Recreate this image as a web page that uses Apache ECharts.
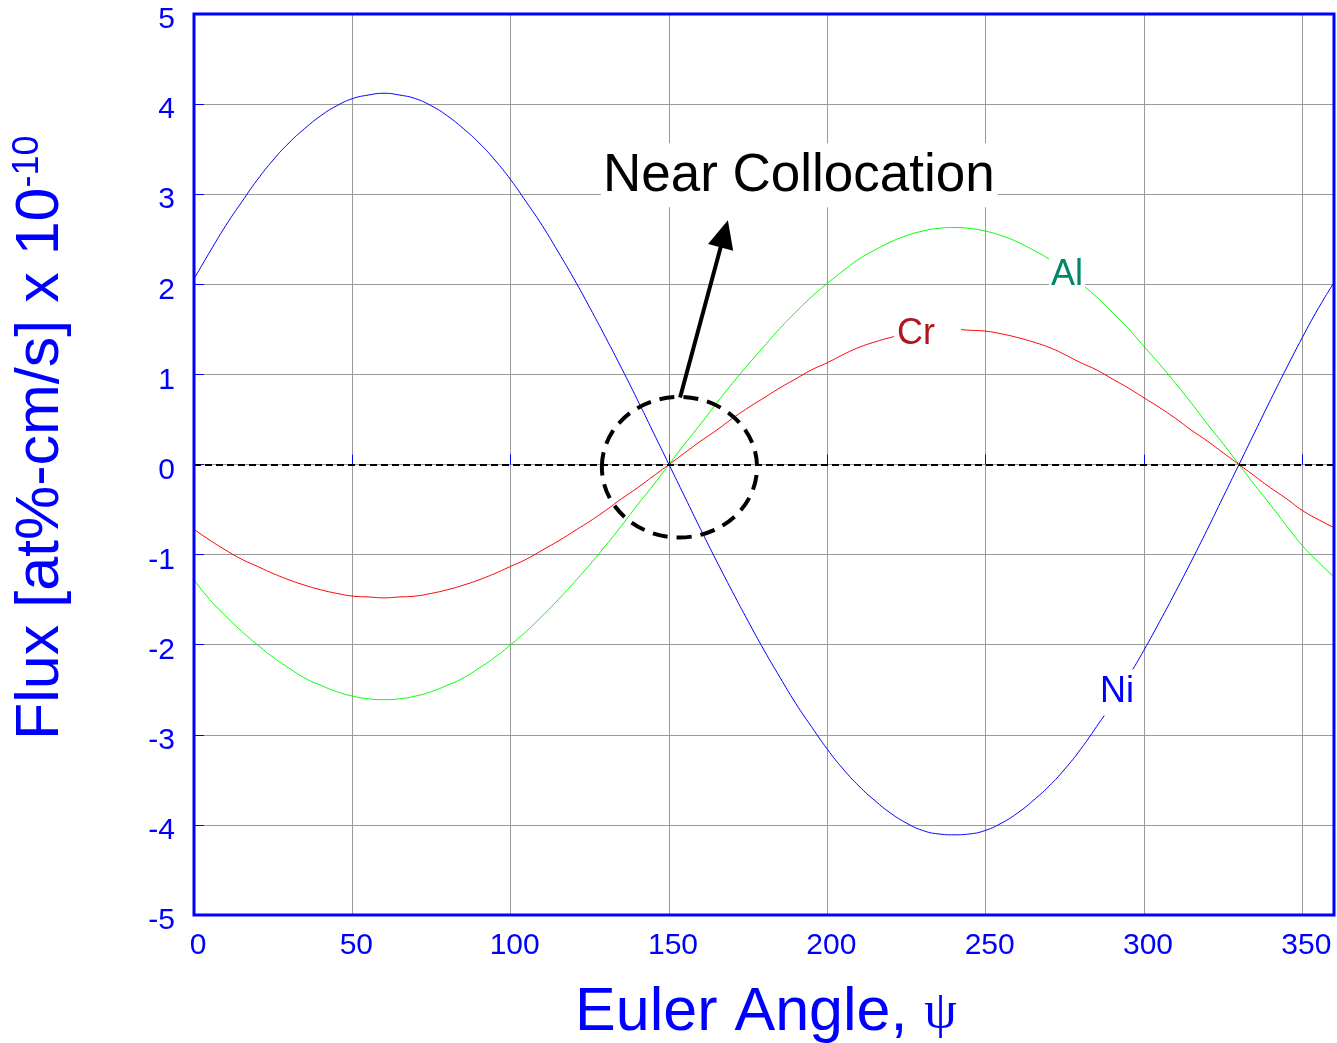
<!DOCTYPE html>
<html>
<head>
<meta charset="utf-8">
<title>Flux vs Euler Angle</title>
<script src="https://cdn.jsdelivr.net/npm/echarts@6/dist/echarts.min.js"></script>
<style>
  html, body { margin: 0; padding: 0; background: #ffffff; }
  #chart { width: 1337px; height: 1043px; }
</style>
</head>
<body>
<div id="chart"></div>
<script>
// Euler angle samples (degrees)
const psi = [0, 5, 10, 15, 20, 25, 30, 35, 40, 45, 50, 55, 60, 65, 70, 75, 80, 85, 90, 95,
             100, 105, 110, 115, 120, 125, 130, 135, 140, 145, 150, 155, 160, 165, 170, 175, 180, 185, 190, 195,
             200, 205, 210, 215, 220, 225, 230, 235, 240, 245, 250, 255, 260, 265, 270, 275, 280, 285, 290, 295,
             300, 305, 310, 315, 320, 325, 330, 335, 340, 345, 350, 355, 360];

// Flux per element, at%-cm/s x 1e-10
const ni = [2.06, 2.36, 2.65, 2.91, 3.16, 3.38, 3.57, 3.73, 3.87, 3.98, 4.06, 4.10, 4.12, 4.10, 4.06, 3.98, 3.87, 3.73, 3.57, 3.38,
            3.16, 2.91, 2.65, 2.36, 2.06, 1.74, 1.41, 1.07, 0.72, 0.36, 0.00, -0.36, -0.72, -1.07, -1.41, -1.74, -2.06, -2.36, -2.65, -2.91,
            -3.16, -3.38, -3.57, -3.73, -3.87, -3.98, -4.06, -4.10, -4.11, -4.10, -4.06, -3.98, -3.87, -3.73, -3.57, -3.38, -3.16, -2.91, -2.65, -2.36,
            -2.06, -1.74, -1.41, -1.07, -0.72, -0.36, 0.00, 0.36, 0.72, 1.07, 1.41, 1.73, 2.02];
const al = [-1.28, -1.50, -1.68, -1.85, -2.00, -2.14, -2.26, -2.37, -2.45, -2.52, -2.57, -2.60, -2.61, -2.60, -2.57, -2.52, -2.45, -2.37, -2.26, -2.14,
            -2.00, -1.85, -1.68, -1.50, -1.31, -1.11, -0.90, -0.68, -0.45, -0.23, 0.00, 0.23, 0.45, 0.68, 0.90, 1.11, 1.31, 1.51, 1.69, 1.86,
            2.01, 2.15, 2.28, 2.38, 2.47, 2.54, 2.59, 2.62, 2.63, 2.62, 2.59, 2.54, 2.47, 2.38, 2.28, 2.15, 2.01, 1.86, 1.69, 1.51,
            1.31, 1.11, 0.90, 0.68, 0.45, 0.23, 0.00, -0.23, -0.45, -0.68, -0.90, -1.08, -1.25];
const cr = [-0.72, -0.84, -0.95, -1.05, -1.13, -1.21, -1.28, -1.34, -1.39, -1.43, -1.46, -1.47, -1.48, -1.47, -1.46, -1.43, -1.39, -1.34, -1.28, -1.21,
            -1.13, -1.05, -0.95, -0.85, -0.74, -0.63, -0.51, -0.38, -0.26, -0.13, 0.00, 0.13, 0.26, 0.38, 0.51, 0.63, 0.74, 0.85, 0.95, 1.05,
            1.13, 1.22, 1.30, 1.36, 1.41, 1.45, 1.48, 1.49, 1.50, 1.49, 1.48, 1.45, 1.41, 1.36, 1.30, 1.22, 1.13, 1.05, 0.95, 0.85,
            0.74, 0.63, 0.51, 0.38, 0.26, 0.13, 0.00, -0.13, -0.26, -0.38, -0.51, -0.61, -0.70];

// In-plot labels: text, anchor in data units
const curveLabels = [
  { text: 'Al', x: 275.7, y: 2.10,  color: '#00876a', box: [-18, 18, -20, 20] },
  { text: 'Cr', x: 228.0, y: 1.45,  color: '#b2151f', box: [-22, 45, -18, 17] },
  { text: 'Ni', x: 291.5, y: -2.53, color: '#0000ff', box: [-18, 19, -23, 23] }
];
const noteText = 'Near Collocation';
const notePos = [191.0, 3.20];
const ringCenter = [153.3, -0.03];
const ringRadius = [24.5, 0.78];
const arrowTail = [153.5, 0.744];
const arrowTip = [168.6, 2.71];

const FONT = '"Liberation Sans", Arial, Helvetica, sans-serif';
const BLUE = '#0000ff';

const pairs = v => psi.map((p, i) => [p, v[i]]);

const chart = echarts.init(document.getElementById('chart'), null, { renderer: 'canvas' });

const option = {
  backgroundColor: '#ffffff',
  animation: false,
  grid: { left: 194, right: 3, top: 14, bottom: 128 },
  xAxis: {
    type: 'value', min: 0, max: 360, interval: 50,
    axisLine: { show: false },
    axisTick: { show: true, inside: true, length: 10, lineStyle: { color: BLUE, width: 1 } },
    axisLabel: {
      color: BLUE, fontSize: 30, fontFamily: FONT, margin: 16,
      showMaxLabel: false, padding: [0, 0, 0, 8]
    },
    splitLine: { show: true, lineStyle: { color: '#9a9a9a', width: 1 } }
  },
  yAxis: {
    type: 'value', min: -5, max: 5, interval: 1,
    axisLine: { show: false },
    axisTick: { show: true, inside: true, length: 10, lineStyle: { color: BLUE, width: 1 } },
    axisLabel: {
      margin: 19, formatter: '{v|{value}}',
      rich: { v: { color: BLUE, fontSize: 30, fontFamily: FONT, padding: [12, 0, 0, 0] } }
    },
    splitLine: { show: true, lineStyle: { color: '#9a9a9a', width: 1 } }
  },
  series: [
    {
      name: 'Ni', type: 'line', data: pairs(ni), smooth: true, showSymbol: false,
      lineStyle: { color: BLUE, width: 1 }, z: 3,
      markLine: {
        silent: true, symbol: ['none', 'none'], label: { show: false },
        lineStyle: { color: '#000000', width: 2, type: [7, 4] },
        data: [{ yAxis: 0 }]
      }
    },
    { name: 'Al', type: 'line', data: pairs(al), smooth: true, showSymbol: false,
      lineStyle: { color: '#00ff00', width: 1 }, z: 3 },
    { name: 'Cr', type: 'line', data: pairs(cr), smooth: true, showSymbol: false,
      lineStyle: { color: '#ff0000', width: 1 }, z: 3 }
  ]
};

chart.setOption(option);

function px(p) { return chart.convertToPixel({ gridIndex: 0 }, p); }

function buildNotes() {
  const g = [];
  // plot frame
  const tl = px([0, 5]), br = px([360, -5]);
  g.push({
    type: 'rect', z: 70,
    shape: { x: tl[0], y: tl[1], width: br[0] - tl[0], height: br[1] - tl[1] },
    style: { fill: 'none', stroke: BLUE, lineWidth: 3 }
  });
  // curve name tags with white backing
  curveLabels.forEach(l => {
    const c = px([l.x, l.y]);
    g.push({
      type: 'rect', z: 50,
      shape: { x: c[0] + l.box[0], y: c[1] + l.box[2], width: l.box[1] - l.box[0], height: l.box[3] - l.box[2] },
      style: { fill: '#ffffff' }
    });
    g.push({
      type: 'text', z: 51, x: c[0], y: c[1],
      style: { text: l.text, fill: l.color, font: '36px ' + FONT, align: 'center', verticalAlign: 'middle' }
    });
  });
  // annotation title
  const n = px(notePos);
  g.push({ type: 'rect', z: 50, shape: { x: n[0] - 198, y: n[1] - 33, width: 397, height: 64 }, style: { fill: '#ffffff' } });
  g.push({
    type: 'text', z: 51, x: n[0], y: n[1],
    style: { text: noteText, fill: '#000000', font: '53px ' + FONT, align: 'center', verticalAlign: 'middle' }
  });
  // dashed ring around the crossing
  const rc = px(ringCenter);
  const re = px([ringCenter[0] + ringRadius[0], ringCenter[1] + ringRadius[1]]);
  g.push({
    type: 'ellipse', z: 40,
    shape: { cx: rc[0], cy: rc[1], rx: re[0] - rc[0], ry: rc[1] - re[1] },
    style: { fill: 'none', stroke: '#000000', lineWidth: 4, lineDash: [15, 9] }
  });
  // arrow
  const t0 = px(arrowTail), t1 = px(arrowTip);
  const dx = t1[0] - t0[0], dy = t1[1] - t0[1];
  const len = Math.sqrt(dx * dx + dy * dy);
  const ux = dx / len, uy = dy / len;
  const headL = 28, headW = 13;
  const bx = t1[0] - ux * headL, by = t1[1] - uy * headL;
  g.push({
    type: 'line', z: 40,
    shape: { x1: t0[0], y1: t0[1], x2: bx + ux * 2, y2: by + uy * 2 },
    style: { stroke: '#000000', lineWidth: 4 }
  });
  g.push({
    type: 'polygon', z: 40,
    shape: { points: [[t1[0], t1[1]], [bx - uy * headW, by + ux * headW], [bx + uy * headW, by - ux * headW]] },
    style: { fill: '#000000' }
  });
  // axis titles
  g.push({
    type: 'text', z: 60, x: 41, y: 740, rotation: Math.PI / 2,
    style: {
      text: '{a|Flux [at%-cm/s] x 10}{b|-10}', align: 'left', verticalAlign: 'middle',
      rich: {
        a: { fontSize: 61, fontFamily: FONT, fill: BLUE, lineHeight: 61 },
        b: { fontSize: 36, fontFamily: FONT, fill: BLUE, verticalAlign: 'top' }
      }
    }
  });
  g.push({
    type: 'text', z: 60, x: 766, y: 1013,
    style: {
      text: '{a|Euler Angle, }{b|ψ}', align: 'center', verticalAlign: 'middle',
      rich: {
        a: { fontSize: 61, fontFamily: FONT, fill: BLUE },
        b: { fontSize: 52, fontFamily: '"Liberation Serif", "Times New Roman", serif', fill: BLUE }
      }
    }
  });
  chart.setOption({ graphic: { elements: g } });
}

buildNotes();
</script>
</body>
</html>
